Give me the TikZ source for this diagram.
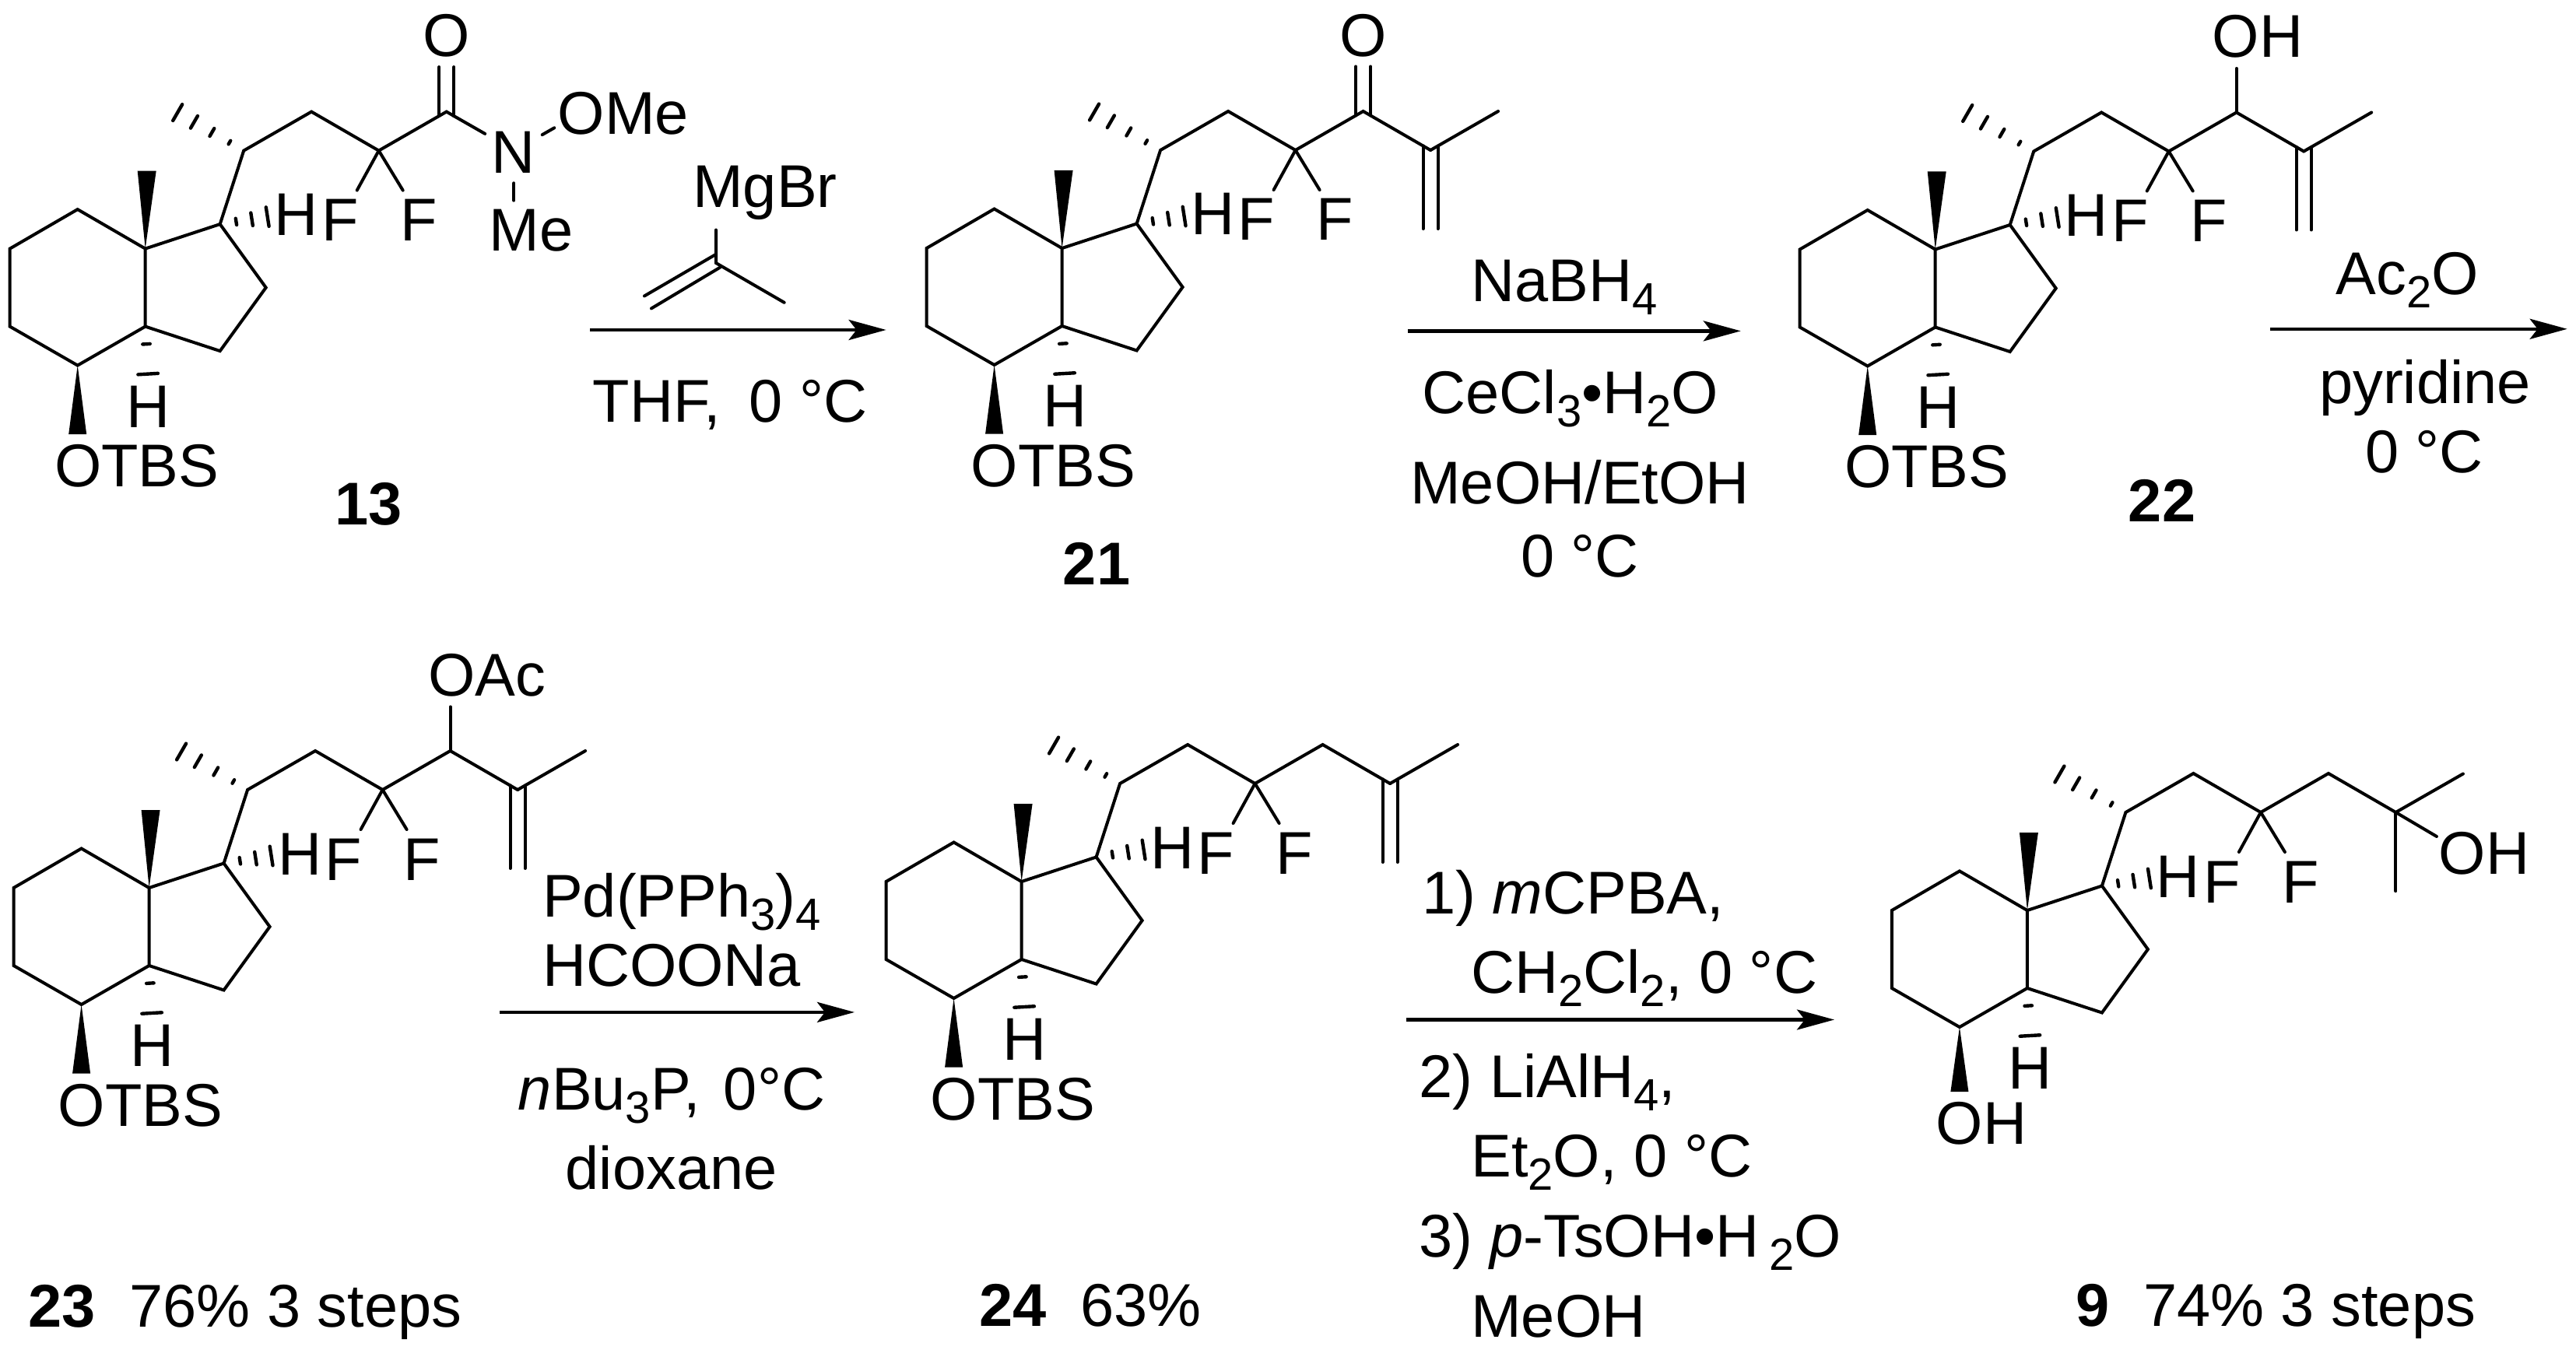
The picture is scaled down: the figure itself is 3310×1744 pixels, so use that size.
\documentclass[tikz,border=0pt]{standalone}
\usepackage{fontspec}
\setmainfont{Liberation Sans}
\usetikzlibrary{arrows.meta,calc}

\tikzset{
    bond/.style={line width=1pt, line cap=round, line join=miter},
    hashline/.style={line width=1.1pt, line cap=round},
    lab/.style={font=\fontsize{19.4}{22}\selectfont, inner sep=0pt, anchor=base},
    labw/.style={lab, anchor=base west},
    rxn/.style={line width=1.1pt, -{Stealth[length=12pt,width=6.5pt,inset=2.5pt]}},
}
\newcommand{\chemsub}[1]{\raisebox{-4.3pt}{\fontsize{14.5}{14.5}\selectfont #1}}

% from, to, half width at the far end, fractions
\newcommand{\hashbond}[4]{
    \foreach \f in {#4} {
        \draw [hashline] ($(#1)!\f!(#2) + (#1)!{\f*#3}!90:(#2) - (#1)$) -- ($(#1)!\f!(#2) + (#1)!{\f*#3}!-90:(#2) - (#1)$);
    }
}
% the ring part, drawn round the upper ring fusion atom at (0,0)
\newcommand{\ringcore}[2]{
    \coordinate (#1cf) at (300,-126);
    \coordinate (#1ch) at (126.5,-126);
    \coordinate (#1me) at (41.5,-175);
    \coordinate (#1five) at (96,-31.5);
    \coordinate (#1hh) at (157,-41);
    \coordinate (#1lj) at (0,100);
    \coordinate (#1hb) at (3.5,161);
    \draw [bond] (0,0) -- (-87,-50.5) -- (-174,0) -- (-174,100) -- (-87,150) -- (#1lj) -- cycle;
    \draw [bond] (0,0) -- (#1five) -- (155,50) -- (96,131.5) -- (#1lj);
    \draw [bond] (#1five) -- (#1ch) -- (213.5,-176) -- (#1cf);
    \draw [bond] (#1cf) -- (272,-75);
    \draw [bond] (#1cf) -- (331,-75);
    \fill (0,0) -- (-10,-100) -- (14,-100) -- cycle;
    \fill (-87,150) -- (-98.5,#2) -- (-75.5,#2) -- cycle;
    \hashbond{#1ch}{#1me}{3pt}{0.215,0.48,0.75,1}
    \hashbond{#1five}{#1hh}{3.1pt}{0.34,0.67,1}
    \hashbond{#1lj}{#1hb}{3.2pt}{0.37,1}
    \node [lab] (#1H) at (194,-17) {H};
    \node [lab] (#1Fa) at (250,-10) {F};
    \node [lab] (#1Fb) at (351,-10) {F};
    \node [lab] (#1Hb) at (4,229.5) {H};
}
\newcommand{\propenyl}{
    \draw [bond] (473.5,-126) -- (560.5,-176);
    \draw [bond] (464,-131.5) -- (464,-25);
    \draw [bond] (483,-131.5) -- (483,-25);
}

\begin{document}
\begin{tikzpicture}[x=0.25pt, y=-0.25pt]
    \useasboundingbox (0,0) rectangle (3310,1744);

    % 13
    \begin{scope}[shift={(186.7,319.6)}]
        \ringcore{a}{238.5}
        \draw [bond] (acf) -- (387,-176) -- (436.5,-147.7);
        \draw [bond] (377.5,-170.5) -- (377.5,-233.5);
        \draw [bond] (396.5,-170.5) -- (396.5,-233.5);
        \draw [bond] (510,-146.4) -- (525.6,-155.3);
        \draw [bond] (473.7,-84.3) -- (473.7,-62);
        \node [lab] (aO) at (386.6,-246.6) {O};
        \node [lab] (aN) at (472.7,-96.6) {N};
        \node [lab] (aOMe) at (614.3,-146.6) {OMe};
        \node [lab] (aMe) at (496,3.2) {Me};
        \node [lab] (aOTBS) at (-11,306) {OTBS};
    \end{scope}
    \node [lab] (n13) at (474,674) {\textbf{13}};

    % vinyl reagent
    \draw [bond] (920,295.5) -- (920,338) -- (1007.7,388.8);
    \draw [bond] (919.3,327.2) -- (828,380.4);
    \draw [bond] (925,343.8) -- (837,396.4);
    \node [lab] (mgbr) at (983,267) {MgBr};
    \coordinate (r1a) at (758,424);
    \coordinate (r1b) at (1138.6,424);
    \draw [rxn] (r1a) -- (r1b);
    \node [lab] (thf) at (938,542) {THF,\hspace{9.2pt}0 °C};

    % 21
    \begin{scope}[shift={(1364.6,319)}]
        \ringcore{b}{238.5}
        \draw [bond] (bcf) -- (387,-176) -- (473.5,-126);
        \draw [bond] (377.5,-170.5) -- (377.5,-233.5);
        \draw [bond] (396.5,-170.5) -- (396.5,-233.5);
        \propenyl
        \node [lab] (bO) at (386.6,-246.6) {O};
        \node [lab] (bOTBS) at (-11,306) {OTBS};
    \end{scope}
    \node [lab] (n21) at (1409,751) {\textbf{21}};

    \coordinate (r2a) at (1808.8,425.4);
    \coordinate (r2b) at (2236.8,425.4);
    \draw [rxn] (r2a) -- (r2b);
    \node [lab] (nabh) at (2010,387) {NaBH\chemsub{4}};
    \node [lab] (cecl) at (2018,531) {CeCl\chemsub{3}•H\chemsub{2}O};
    \node [lab] (meoh) at (2030,647) {MeOH/EtOH};
    \node [lab] (zeroa) at (2030,741) {0 °C};

    % 22
    \begin{scope}[shift={(2486.7,320.5)}]
        \ringcore{c}{238.5}
        \draw [bond] (ccf) -- (387,-176) -- (473.5,-126);
        \draw [bond] (387,-176) -- (387,-232.5);
        \propenyl
        \node [lab] (cOH) at (414.3,-246.8) {OH};
        \node [lab] (cOTBS) at (-11,306) {OTBS};
    \end{scope}
    \node [lab] (n22) at (2778,670) {\textbf{22}};

    \coordinate (r3a) at (2917,422.8);
    \coordinate (r3b) at (3298.7,422.8);
    \draw [rxn] (r3a) -- (r3b);
    \node [lab] (acto) at (3093,378.6) {Ac\chemsub{2}O};
    \node [lab] (pyr) at (3116,518.8) {pyridine};
    \node [lab] (zerob) at (3115,607) {0 °C};

    % 23
    \begin{scope}[shift={(191.6,1141)}]
        \ringcore{d}{238.5}
        \draw [bond] (dcf) -- (387,-176) -- (473.5,-126);
        \draw [bond] (387,-176) -- (387,-232.6);
        \propenyl
        \node [lab] (dOAc) at (434,-246.5) {OAc};
        \node [lab] (dOTBS) at (-11,306) {OTBS};
    \end{scope}
    \node [labw] (n23) at (36,1705) {\textbf{23}\ \ 76\% 3 steps};

    \coordinate (r4a) at (642,1300.9);
    \coordinate (r4b) at (1098,1300.9);
    \draw [rxn] (r4a) -- (r4b);
    \node [lab] (pd) at (876,1178) {Pd(PPh\chemsub{3})\chemsub{4}};
    \node [lab] (hcoo) at (863,1267) {HCOONa};
    \node [lab] (bu) at (863,1426) {\textit{n}Bu\chemsub{3}P,\hspace{7.6pt}0°C};
    \node [lab] (diox) at (862.6,1528.5) {dioxane};

    % 24
    \begin{scope}[shift={(1312.6,1133)}]
        \ringcore{e}{238.5}
        \draw [bond] (ecf) -- (387,-176) -- (473.5,-126);
        \propenyl
        \node [lab] (eOTBS) at (-11,306) {OTBS};
    \end{scope}
    \node [labw] (n24) at (1258,1704.8) {\textbf{24}\ \ 63\%};

    \coordinate (r5a) at (1807.4,1310.5);
    \coordinate (r5b) at (2357,1310.5);
    \draw [rxn] (r5a) -- (r5b);
    \node [labw] (ta) at (1826.3,1174.8) {1) \textit{m}CPBA,};
    \node [labw] (tb) at (1889.5,1276.7) {CH\chemsub{2}Cl\chemsub{2}, 0 °C};
    \node [labw] (tc) at (1822.8,1410) {2) LiAlH\chemsub{4},};
    \node [labw] (td) at (1889.5,1512.5) {Et\chemsub{2}O, 0 °C};
    \node [labw] (te) at (1822.8,1615.5) {3) \textit{p}-TsOH•H\,\chemsub{2}O};
    \node [labw] (tf) at (1889.5,1718.6) {MeOH};

    % 9
    \begin{scope}[shift={(2604.9,1170)}]
        \ringcore{f}{233}
        \draw [bond] (fcf) -- (387,-176) -- (473.5,-126) -- (560,-175.5);
        \draw [bond] (473.5,-126) -- (473.5,-24.8);
        \draw [bond] (473.5,-126) -- (526,-95);
        \node [lab] (fOH) at (587,-46.6) {OH};
        \node [lab] (fOHb) at (-59,300.5) {OH};
    \end{scope}
    \node [labw] (n9) at (2667,1704.6) {\textbf{9}\ \ 74\% 3 steps};
\end{tikzpicture}
\end{document}
